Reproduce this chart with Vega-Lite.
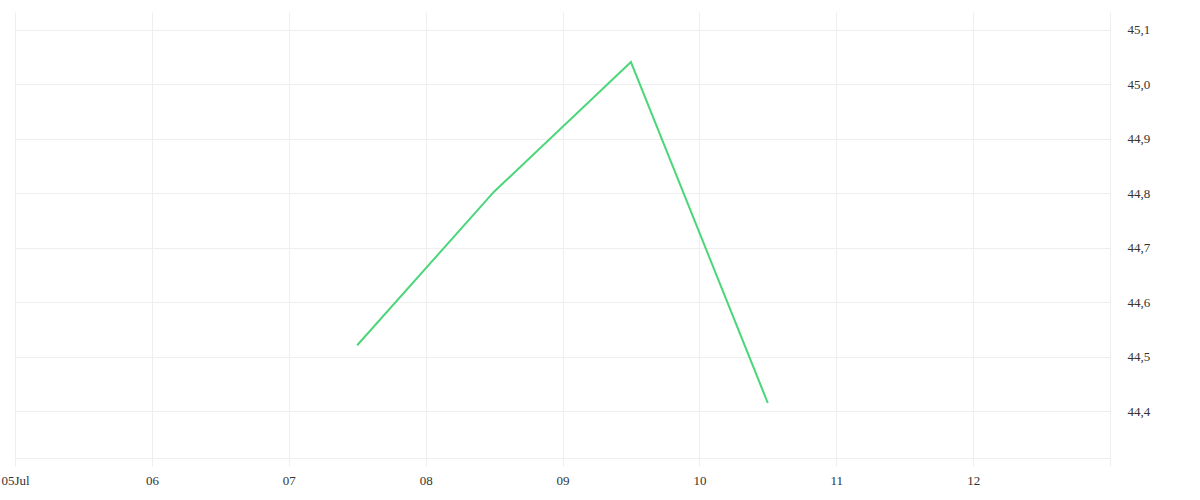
{
  "$schema": "https://vega.github.io/schema/vega-lite/v6.json",
  "width": 1095,
  "height": 446,
  "autosize": {"type": "none"},
  "padding": {"left": 15, "top": 12, "right": 90, "bottom": 42},
  "background": "white",
  "config": {
    "view": {"stroke": null},
    "font": "Liberation Serif",
    "axis": {"labelFont": "Liberation Serif", "labelFontSize": 13, "labelColor": "#333333"}
  },
  "data": {
    "values": [
      {"date": "2023-07-07T12:00:00Z", "value": 44.521},
      {"date": "2023-07-08T12:00:00Z", "value": 44.803},
      {"date": "2023-07-09T12:00:00Z", "value": 45.041},
      {"date": "2023-07-10T12:00:00Z", "value": 44.415}
    ]
  },
  "mark": {"type": "line", "color": "#4cd67a", "strokeWidth": 2},
  "encoding": {
    "x": {
      "field": "date",
      "type": "temporal",
      "scale": {
        "type": "utc",
        "domain": [
          {"year": 2023, "month": 7, "date": 5, "utc": true},
          {"year": 2023, "month": 7, "date": 13, "utc": true}
        ]
      },
      "axis": {
        "title": null,
        "values": [
          {"year": 2023, "month": 7, "date": 5, "utc": true},
          {"year": 2023, "month": 7, "date": 6, "utc": true},
          {"year": 2023, "month": 7, "date": 7, "utc": true},
          {"year": 2023, "month": 7, "date": 8, "utc": true},
          {"year": 2023, "month": 7, "date": 9, "utc": true},
          {"year": 2023, "month": 7, "date": 10, "utc": true},
          {"year": 2023, "month": 7, "date": 11, "utc": true},
          {"year": 2023, "month": 7, "date": 12, "utc": true},
          {"year": 2023, "month": 7, "date": 13, "utc": true}
        ],
        "labelExpr": "utcFormat(datum.value, '%d') == '13' ? '' : (utcFormat(datum.value, '%d') == '05' ? '05Jul' : utcFormat(datum.value, '%d'))",
        "grid": true,
        "gridColor": "#eeeeee",
        "domainColor": "#eeeeee",
        "tickColor": "#eeeeee",
        "tickSize": 8,
        "labelPadding": 8,
        "labelFlush": false,
        "labelOverlap": false
      }
    },
    "y": {
      "field": "value",
      "type": "quantitative",
      "scale": {"domain": [44.314, 45.133], "nice": false, "zero": false},
      "axis": {
        "title": null,
        "orient": "right",
        "values": [44.4, 44.5, 44.6, 44.7, 44.8, 44.9, 45.0, 45.1],
        "labelExpr": "replace(format(datum.value, '.1f'), '.', ',')",
        "grid": true,
        "gridColor": "#eeeeee",
        "domain": false,
        "ticks": false,
        "labelPadding": 17
      }
    }
  }
}
